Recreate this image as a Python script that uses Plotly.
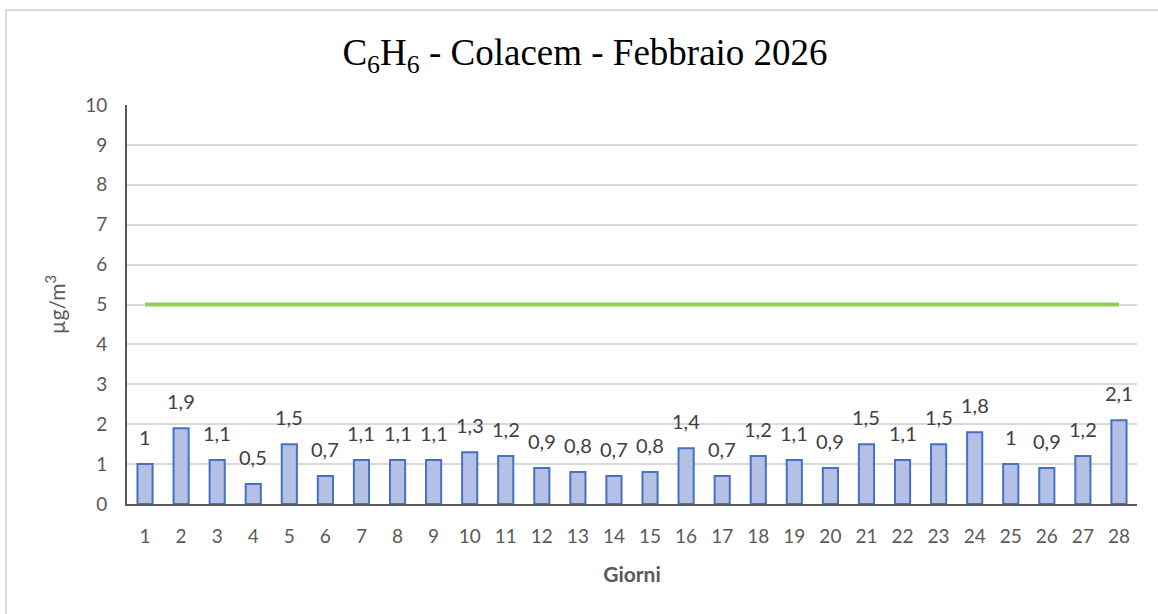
import plotly.graph_objects as go

# dati
giorni = list(range(1, 29))
valori = [1, 1.9, 1.1, 0.5, 1.5, 0.7, 1.1, 1.1, 1.1, 1.3, 1.2, 0.9, 0.8, 0.7,
          0.8, 1.4, 0.7, 1.2, 1.1, 0.9, 1.5, 1.1, 1.5, 1.8, 1, 0.9, 1.2, 2.1]
limite = 5
y_ticks = list(range(0, 11))

SANS = "Lato, 'Open Sans', sans-serif"
GREY = "#595959"

W, H = 1158, 614
L, R, T, B = 127, 21, 105, 110
pw, ph = W - L - R, H - T - B


def fmt(v):
    return f"{v:g}".replace(".", ",")


fig = go.Figure()
fig.add_trace(go.Bar(
    x=giorni, y=valori, width=0.42,
    marker=dict(color="#B4C0E4", line=dict(color="#4472C4", width=2)),
    showlegend=False, hoverinfo="x+y",
))
fig.add_trace(go.Scatter(
    x=giorni, y=[limite] * len(giorni), mode="lines",
    line=dict(color="#92D050", width=4), showlegend=False,
))

for g, v in zip(giorni, valori):
    fig.add_annotation(x=g, y=v, text=fmt(v), showarrow=False,
                       yanchor="middle", yshift=27,
                       font=dict(family=SANS, size=20, color="#404040"))

# bordo del grafico
fig.add_shape(type="rect", xref="paper", yref="paper",
              x0=(6 - L) / pw, x1=(W + 5 - L) / pw,
              y0=(H - B - (H + 5)) / ph, y1=(H - B - 10) / ph,
              line=dict(color="#D9D9D9", width=2), layer="below")

fig.update_layout(
    width=W, height=H,
    margin=dict(l=L, r=R, t=T, b=B),
    paper_bgcolor="white", plot_bgcolor="white",
    title=dict(text="C<sub>6</sub>H<sub>6</sub> - Colacem - Febbraio 2026",
               x=585 / W, xanchor="center", y=1 - 52 / H, yanchor="middle",
               font=dict(family="'Liberation Serif', 'Times New Roman', serif",
                         size=37, color="black")),
    bargap=0.58,
)
fig.update_xaxes(
    range=[0.5, 28.5], tickmode="array", tickvals=giorni,
    ticktext=[str(g) for g in giorni], showgrid=False,
    showline=True, linecolor=GREY, linewidth=2, ticks="",
    ticklabelstandoff=14,
    tickfont=dict(family=SANS, size=19, color=GREY),
    title=dict(text="<b>Giorni</b>", font=dict(family=SANS, size=21, color=GREY),
               standoff=22),
    zeroline=False,
)
fig.update_yaxes(
    range=[0, 10], tickmode="array", tickvals=y_ticks,
    showgrid=True, gridcolor="#D9D9D9", gridwidth=1.5,
    showline=True, linecolor=GREY, linewidth=2, ticks="",
    ticklabelstandoff=14,
    tickfont=dict(family=SANS, size=19, color=GREY),
    title=dict(text="µg/m<sup>3</sup>", font=dict(family=SANS, size=21, color=GREY),
               standoff=14),
    zeroline=False,
)

fig.write_html("out.html", config={"displayModeBar": False},
               post_script="document.body.style.margin='0';")
